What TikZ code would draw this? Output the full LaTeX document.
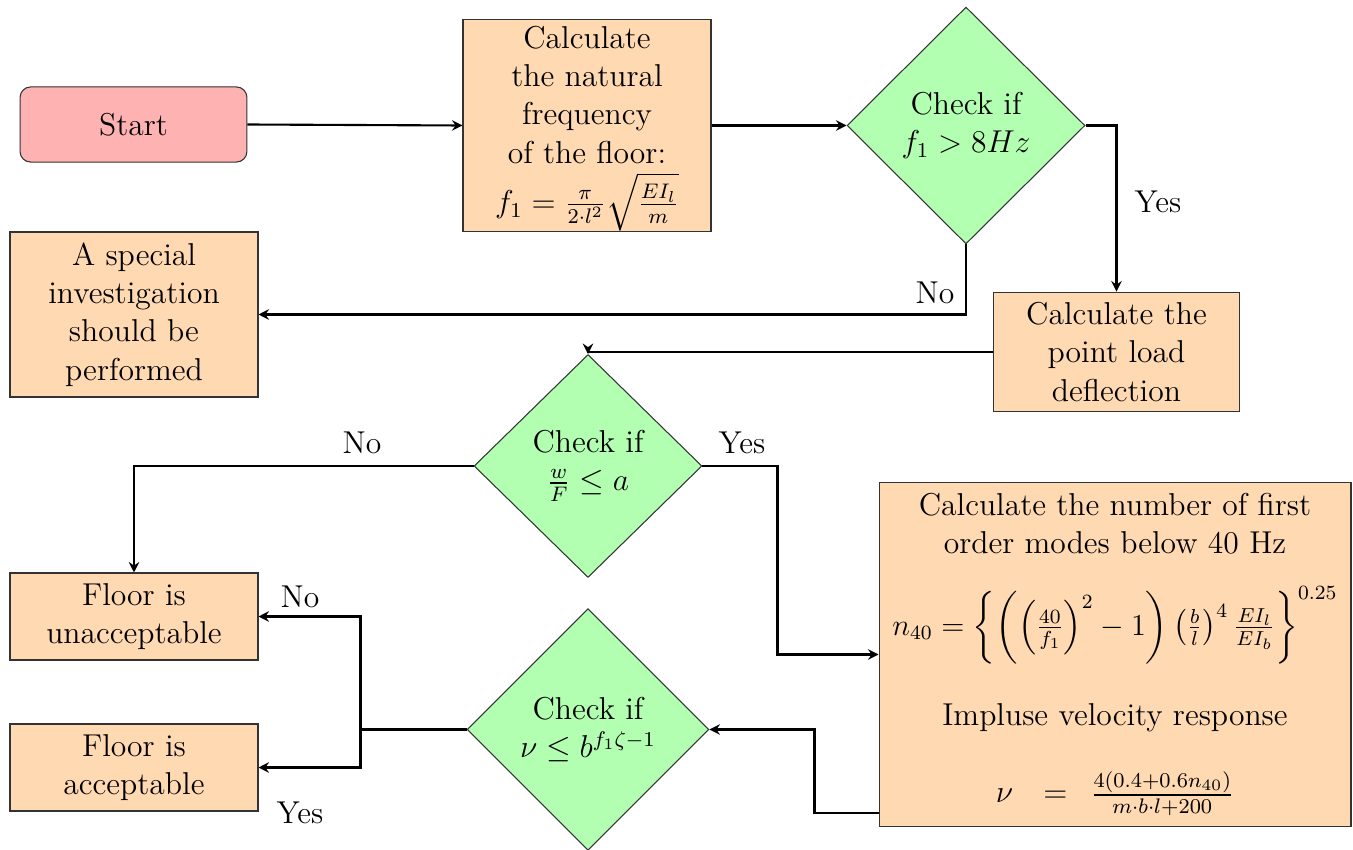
\documentclass[tikz,12pt,border=0pt]{standalone}
\usepackage{amsmath}
\usepackage{graphicx}
\usetikzlibrary{shapes.geometric,arrows.meta,calc}
\begin{document}
\begin{tikzpicture}[x=0.3795pt,y=-0.3795pt,
  box/.style={draw=black!80, line width=0.4pt, fill=orange!30, align=center, inner sep=2pt},
  startbox/.style={draw=black!80, line width=0.4pt, fill=red!30, rounded corners=4pt, align=center},
  dia/.style={diamond, draw=black!80, line width=0.4pt, fill=green!30, align=center, inner sep=0pt},
  conn/.style={line width=0.8pt, -{Stealth[length=4pt,width=4pt,inset=1.4pt]}},
  trunk/.style={line width=0.8pt},
  lbl/.style={inner sep=0pt}]
\useasboundingbox (0,0) rectangle (1353,850);

\node[startbox, minimum width=86.1pt, minimum height=28.5pt] (start) at (133.5,124.5) {Start};
\node[box, inner ysep=0.25pt, minimum width=94.1pt, minimum height=80.1pt] (nat) at (587,125.5)
  {\rule{0pt}{10.8pt}Calculate\\ the natural\\ frequency\\ of the floor:\\[2.5pt] $f_1 = \frac{\pi}{2\cdot l^2}\sqrt{\frac{EI_l}{m}}$};
\node[dia, minimum width=90.3pt, minimum height=89.9pt] (d1) at (966,125.5) {Check if\\ $f_1 > 8Hz$};
\node[box, minimum width=93.7pt, minimum height=45.5pt] (defl) at (1116.5,352) {Calculate the\\ point load\\ deflection};
\node[box, minimum width=94.1pt, minimum height=62.6pt] (spec) at (134,314.5) {A special\\ investigation\\ should be\\ performed};
\node[dia, minimum width=86.5pt, minimum height=84.6pt] (d2) at (588,466) {Check if\\ $\frac{w}{F}\leq a$};
\node[box, minimum width=94.1pt, minimum height=33pt] (unacc) at (134,616.5) {Floor is\\ unacceptable};
\node[box, minimum width=94.1pt, minimum height=33pt] (acc) at (134,767.5) {Floor is\\ acceptable};
\node[box, inner sep=0.5pt, minimum width=179.1pt, minimum height=130.2pt] (big) at (1115,654.5)
  {Calculate the number of first\\ order modes below 40 Hz\\[11.1pt]
   \resizebox{168.9pt}{!}{$n_{40}=\left\{\left(\left(\frac{40}{f_1}\right)^2-1\right)\left(\frac{b}{l}\right)^4\frac{EI_l}{EI_b}\right\}^{0.25}$}\\[14.2pt]
   Impluse velocity response\\[14.7pt]
   $\nu\hspace{11.5pt}{=}\hspace{8.7pt}\frac{4(0.4+0.6n_{40})}{m\cdot b\cdot l+200}$};
\node[dia, minimum width=91.8pt, minimum height=91.8pt] (d3) at (588,729.5) {Check if\\ $\nu\leq b^{f_1\zeta-1}$};

\draw[conn] (start.east) -- (nat.west);
\draw[conn] (nat.east) -- (d1.west);
\draw[conn] (d1.east) -| (defl.north);
\draw[conn] (d1.south) |- (spec.east);
\draw[conn] (defl.west) -| (d2.north);
\draw[conn] (d2.west) -| (unacc.north);
\draw[conn] (d2.east) -- ++(75,0) |- (big.west);
\draw[conn] ($(big.south west)+(0,-14)$) -- ++(-64,0) |- (d3.east);
\draw[trunk] (d3.west) -- ++(-106,0) coordinate (j);
\draw[conn] (j) |- (unacc.east);
\draw[conn] (j) |- (acc.east);

\node[lbl] (yes1) at (1158,202) {Yes};
\node[lbl] (no1) at (935,293) {No};
\node[lbl] (no2) at (362,443) {No};
\node[lbl] (yes2) at (742,443) {Yes};
\node[lbl] (no3) at (300,597) {No};
\node[lbl] (yes3) at (300,813) {Yes};
\end{tikzpicture}
\end{document}
